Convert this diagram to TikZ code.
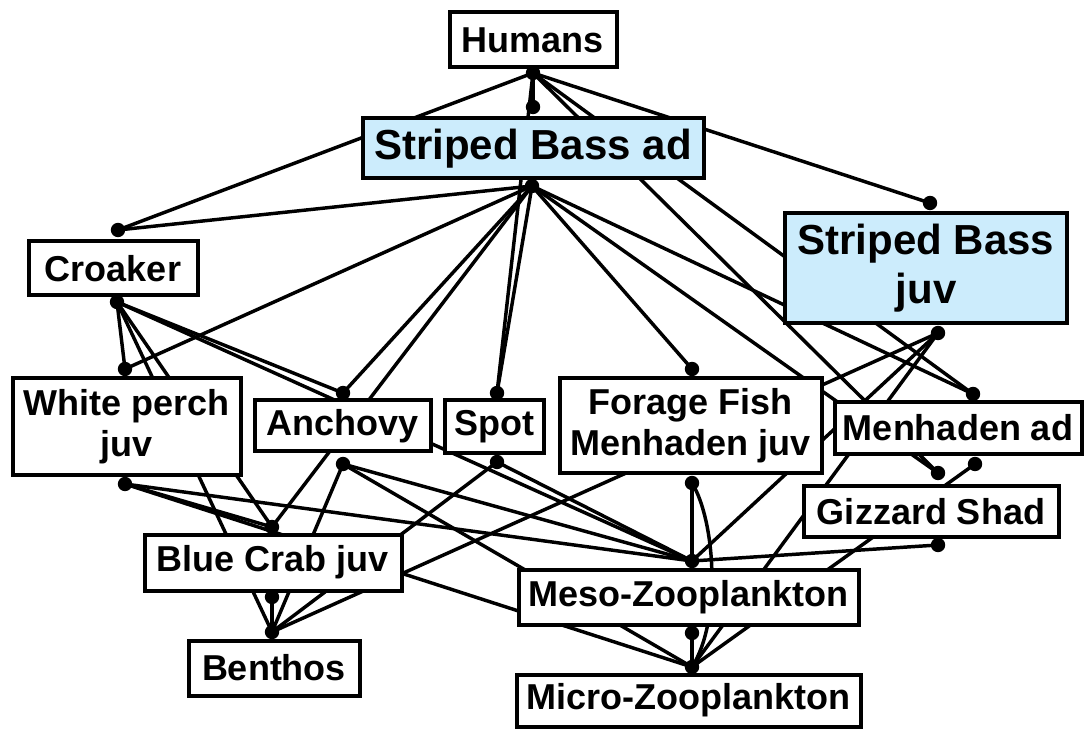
\documentclass[tikz,border=0pt]{standalone}
\usepackage{fontspec}
\setmainfont{Liberation Sans}
\definecolor{bassblue}{RGB}{204,236,252}
\tikzset{
  box/.style={draw, line width=3pt, fill=white, align=center, inner sep=0pt,
    font=\bfseries\fontsize{27}{30.75}\selectfont},
  bassbox/.style={box, fill=bassblue, font=\bfseries\fontsize{31.5}{36.75}\selectfont},
  boxsize/.style 2 args={minimum width=#1*0.75pt, minimum height=#2*0.75pt},
  link/.style={line width=2.6pt},
}
\begin{document}
\begin{tikzpicture}[x=0.75pt, y=-0.75pt]
  \useasboundingbox (0,0) rectangle (1085,730);

  % Feeding points (top = eaten, bottom = eats)
  \coordinate (hum-b) at (533,73);
  \coordinate (sba-t) at (533,107);
  \coordinate (sba-b) at (532,186);
  \coordinate (sbj-t) at (930,203);
  \coordinate (sbj-b) at (938,333);
  \coordinate (cro-t) at (118,230);
  \coordinate (cro-b) at (117,302);
  \coordinate (wpj-t) at (125,369);
  \coordinate (wpj-b) at (125,484);
  \coordinate (anc-t) at (343,393);
  \coordinate (anc-b) at (343,464);
  \coordinate (spo-t) at (497,393);
  \coordinate (spo-b) at (497,462);
  \coordinate (ffm-t) at (692,369);
  \coordinate (ffm-b) at (692,483);
  \coordinate (mha-t) at (973,394);
  \coordinate (mha-b) at (975,464);
  \coordinate (giz-t) at (938,473);
  \coordinate (giz-b) at (938,545);
  \coordinate (bcj-t) at (272,527);
  \coordinate (bcj-b) at (272,597);
  \coordinate (ben-t) at (272,632);
  \coordinate (mes-t) at (692,561);
  \coordinate (mes-b) at (692,633);
  \coordinate (mic-t) at (692,667);

  % Links
  \foreach \p/\q in {hum-b/sba-t, hum-b/cro-t, hum-b/sbj-t, hum-b/mha-t,
      hum-b/giz-t, hum-b/spo-t,
      sba-b/cro-t, sba-b/wpj-t, sba-b/anc-t, sba-b/bcj-t, sba-b/spo-t,
      sba-b/ffm-t, sba-b/mha-t, sba-b/giz-t,
      sbj-b/ben-t, sbj-b/mes-t, sbj-b/mic-t,
      cro-b/wpj-t, cro-b/anc-t, cro-b/mes-t, cro-b/bcj-t, cro-b/ben-t,
      wpj-b/bcj-t, wpj-b/mes-t, wpj-b/mic-t,
      anc-b/ben-t, anc-b/mes-t, anc-b/mic-t,
      spo-b/mes-t, spo-b/ben-t,
      ffm-b/mes-t, mha-b/mic-t, giz-b/mes-t,
      bcj-b/ben-t, mes-b/mic-t}
    \draw[link] (\p) -- (\q);
  \draw[link] (ffm-b) .. controls (715,520) and (722,620) .. (mic-t);

  % Boxes
  \node[box, boxsize={167}{55}] (hum) at (533,40) {Humans};
  \node[bassbox, boxsize={341}{60}] (sba) at (533,148.5) {Striped Bass ad};
  \node[bassbox, boxsize={282}{110}] (sbj) at (926,268.5) {Striped Bass\\juv};
  \node[box, boxsize={169}{54}] (cro) at (113,268.5) {Croaker};
  \node[box, boxsize={228}{97}] (wpj) at (126.5,427) {White perch\\juv};
  \node[box, boxsize={176}{51}] (anc) at (342.5,426) {Anchovy};
  \node[box, boxsize={99}{53}] (spo) at (494,427) {Spot};
  \node[box, boxsize={262}{95}] (ffm) at (690.5,426) {Forage Fish\\Menhaden juv};
  \node[box, boxsize={247}{52}] (mha) at (958,428) {Menhaden ad};
  \node[box, boxsize={255}{50}] (giz) at (931,511.5) {Gizzard Shad};
  \node[box, boxsize={257}{56}] (bcj) at (273,562.5) {Blue Crab juv};
  \node[box, boxsize={171}{55}] (ben) at (274,668) {Benthos};
  \node[box, boxsize={340}{55}] (mes) at (688.5,597) {Meso-Zooplankton};
  \node[box, boxsize={344}{52}] (mic) at (688.5,700.5) {Micro-Zooplankton};

  % Dots
  \foreach \c in {hum-b, sba-t, sba-b, sbj-t, sbj-b, cro-t, cro-b, wpj-t, wpj-b,
      anc-t, anc-b, spo-t, spo-b, ffm-t, ffm-b, mha-t, mha-b, giz-t, giz-b,
      bcj-t, bcj-b, ben-t, mes-t, mes-b, mic-t}
    \fill (\c) circle (5.4pt);
\end{tikzpicture}
\end{document}
